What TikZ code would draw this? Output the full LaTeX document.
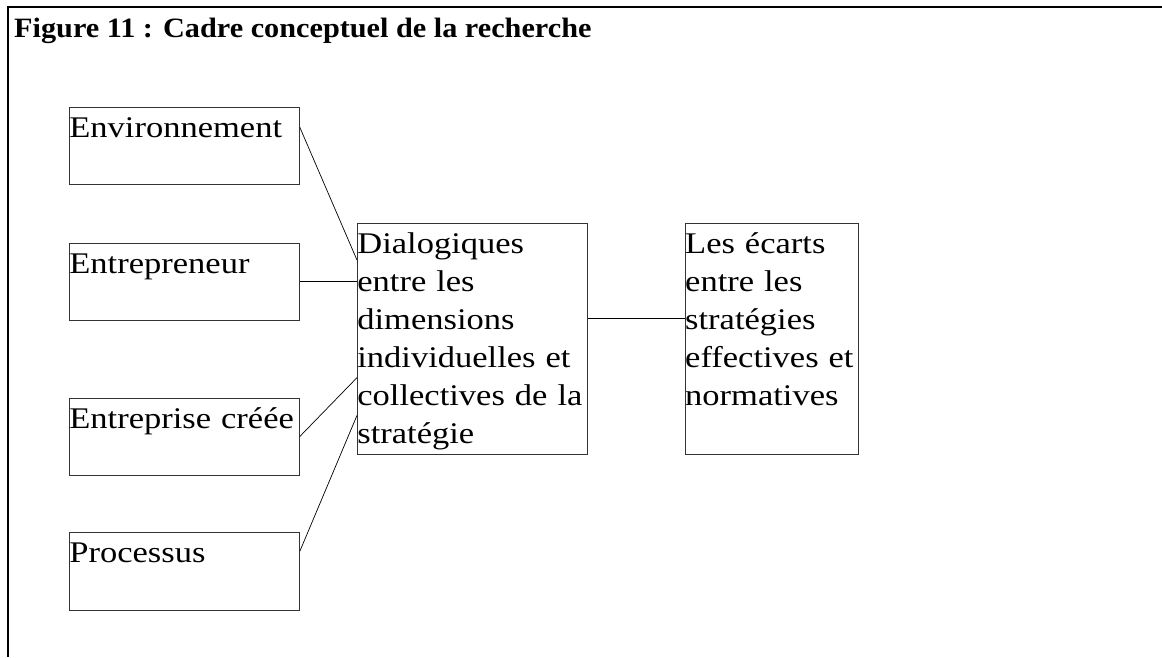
\documentclass[tikz,border=0pt]{standalone}
\usepackage{fontspec}
\setmainfont{Liberation Serif}
\newfontfamily\boxfont[FakeStretch=1.15]{Liberation Serif}
\newfontfamily\titlefont[FakeStretch=1.08]{Liberation Serif}
\usepackage{xcolor}
\usetikzlibrary{calc, positioning}
\definecolor{boxline}{HTML}{333333}
\tikzset{
  % Concept box style
  concept/.style={
    draw=boxline,
    line width = 0.8pt,
    inner sep = 0pt,
    align = left,
    text height = 30pt,
    font = \boxfont\fontsize{30}{38}\selectfont
  },
  % Graph line style
  glink/.style={
    line width = 0.7pt
  },
}

\begin{document}
\begin{tikzpicture}
          [x=1pt, y=-1pt,
           side/.style={concept, text width=230pt, text depth=47pt}
          ]
          \useasboundingbox (0,0) rectangle (1162,657);
          \draw[line width=2pt] (1162,7) -- (8,7) -- (8,657);

          \node (title) [anchor=base west
                        , inner sep=0pt
                        , font=\titlefont\bfseries\fontsize{28}{32}\selectfont
                        ] at (14,37)
                        {Figure 11 : Cadre conceptuel de la recherche};

          \node (env) [side, anchor=north west] at (69,107)
                      {Environnement};
          \node (entr) [side
                       , below=58pt of env
                       ]
                       {Entrepreneur};
          \node (crea) [side
                       , below=77pt of entr
                       ]
                       {Entreprise créée};
          \node (proc) [side
                       , below=57pt of crea
                       , text depth=48pt
                       ]
                       {Processus};

          \node (dial) [concept
                       , anchor=north west
                       , text width=230pt
                       , text depth=201pt
                       ] at (357,223)
                       {Dialogiques\\entre les\\dimensions\\individuelles et\\collectives de la\\stratégie};

          \node (ecarts) [concept
                         , right=97pt of dial
                         , text width=173pt
                         , text depth=201pt
                         ]
                         {Les écarts\\entre les\\stratégies\\effectives et\\normatives};

          \draw[glink] ($(env.north east)!0.26!(env.south east)$) -- ($(dial.north west)!0.16!(dial.south west)$);
          \draw[glink] (entr.east) -- (entr.east -| dial.west);
          \draw[glink] (crea.east) -- ($(dial.north west)!0.667!(dial.south west)$);
          \draw[glink] ($(proc.north east)!0.24!(proc.south east)$) -- ($(dial.north west)!0.83!(dial.south west)$);

          \draw[glink] ($(dial.north east)!0.41!(dial.south east)$) coordinate (dout) -- (dout -| ecarts.west);
      \end{tikzpicture}
\end{document}
